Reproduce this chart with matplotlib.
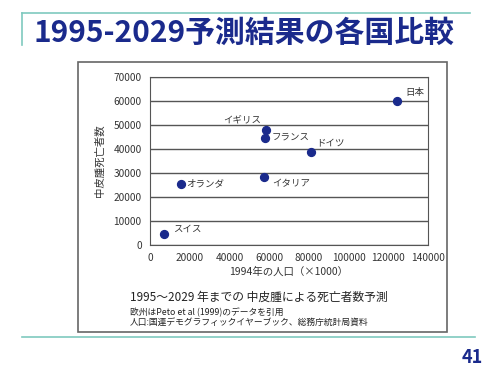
import matplotlib
matplotlib.use("Agg")
import matplotlib.pyplot as plt
from matplotlib.patches import Rectangle
from matplotlib.lines import Line2D

plt.rcParams['font.family'] = ['Noto Sans CJK JP', 'DejaVu Sans']

# data
countries = ['スイス', 'オランダ', 'イタリア', 'イギリス', 'フランス', 'ドイツ', '日本']
population = [7200, 15400, 57300, 58300, 58000, 81100, 124400]   # 1994, x1000
deaths = [4700, 25400, 28500, 47900, 44700, 38900, 60100]        # 1995-2029 predicted
# label offsets in points (dx, dy, ha)
label_pos = [(6.5, 3, 'left'), (4, 0, 'left'), (6, -5, 'left'), (-3, 7, 'right'),
             (4.5, 0.5, 'left'), (4, 6, 'left'), (6, 6, 'left')]

xticks = list(range(0, 140001, 20000))
yticks = list(range(0, 70001, 10000))

navy = '#1a2a8c'
teal = '#7fc9bf'

fig = plt.figure(figsize=(5, 3.75), dpi=100)
W, H = 500, 375

def fx(px):
    return px / W

def fy(py):
    return 1 - py / H

# slide decorations
fig.add_artist(Line2D([fx(22), fx(470)], [fy(13), fy(13)], color=teal, lw=1.2))
fig.add_artist(Line2D([fx(22), fx(22)], [fy(13), fy(45)], color=teal, lw=1.2))
fig.add_artist(Line2D([fx(22), fx(475)], [fy(337), fy(337)], color=teal, lw=1.2))
fig.text(fx(33), fy(42), '1995-2029予測結果の各国比較', color=navy, fontsize=21.5,
         fontweight='bold', va='baseline', ha='left')
fig.text(fx(483), fy(363), '41', color=navy, fontsize=13, fontweight='bold',
         ha='right', va='baseline')

# outer box of the pasted figure
fig.add_artist(Rectangle((fx(78), fy(332)), fx(447 - 78), (332 - 62) / H,
                         fill=False, edgecolor='#666666', lw=1.2))

ax = fig.add_axes([fx(150), fy(245), fx(278), 168 / H])
ax.scatter(population, deaths, s=32, color=navy, zorder=3)
for name, x, y, (dx, dy, ha) in zip(countries, population, deaths, label_pos):
    ax.annotate(name, (x, y), xytext=(dx, dy), textcoords='offset points',
                ha=ha, va='center', fontsize=6.8, color='#333333')

ax.set_xlim(0, 140000)
ax.set_ylim(0, 70000)
ax.set_xticks(xticks)
ax.set_yticks(yticks)
ax.set_xticklabels([str(v) for v in xticks])
ax.set_yticklabels([str(v) for v in yticks])
ax.tick_params(labelsize=7.3, length=0, colors='#333333', pad=6)
ax.grid(axis='y', color='#555555', lw=1.0)
ax.set_axisbelow(True)
for s in ax.spines.values():
    s.set_color('#555555')
ax.set_xlabel('1994年の人口（×1000）', fontsize=7.5, color='#333333', labelpad=2)
ax.set_ylabel('中皮腫死亡者数', fontsize=7.5, color='#333333', labelpad=6)

fig.text(fx(130), fy(301), '1995～2029 年までの 中皮腫による死亡者数予測',
         fontsize=8.5, color='#222222', va='baseline')
fig.text(fx(130), fy(315), '欧州はPeto et al (1999)のデータを引用',
         fontsize=6.3, color='#222222', va='baseline')
fig.text(fx(130), fy(326), '人口:国連デモグラフィックイヤーブック、総務庁統計局資料',
         fontsize=6.3, color='#222222', va='baseline')

fig.savefig('out.png', dpi=100)
